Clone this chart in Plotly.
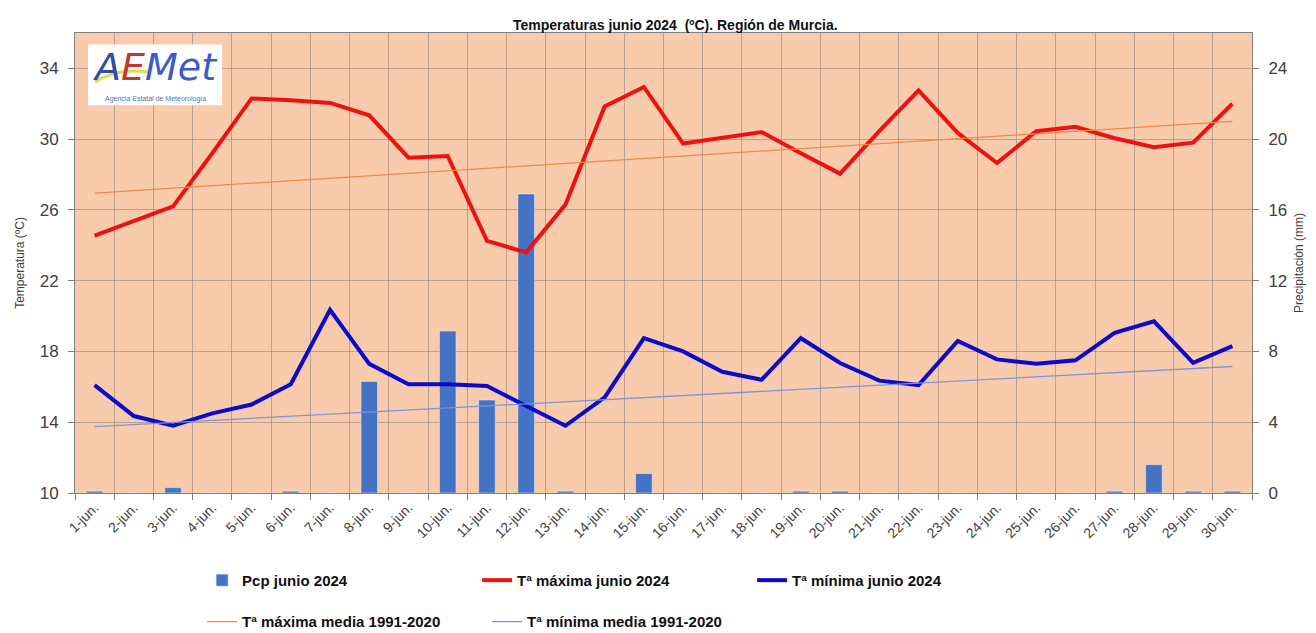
import plotly.graph_objects as go

days = [f"{d}-jun." for d in range(1, 31)]
pcp = [0.1, 0, 0.3, 0, 0, 0.1, 0, 6.3, 0, 9.15, 5.25, 16.9, 0.1, 0, 1.1,
       0, 0, 0, 0.1, 0.1, 0, 0, 0, 0, 0, 0, 0.1, 1.6, 0.1, 0.1]
tmax = [24.55, 25.4, 26.2, 29.2, 32.3, 32.2, 32.05, 31.35, 28.95, 29.05,
        24.25, 23.6, 26.3, 31.85, 32.95, 29.75, 30.1, 30.4, 29.2, 28.05,
        30.45, 32.75, 30.35, 28.65, 30.45, 30.7, 30.05, 29.55, 29.8, 32.0]
tmin = [16.1, 14.35, 13.8, 14.5, 15.0, 16.15, 20.35, 17.3, 16.15, 16.15,
        16.05, 14.95, 13.8, 15.4, 18.75, 18.0, 16.85, 16.4, 18.75, 17.35,
        16.35, 16.1, 18.6, 17.55, 17.3, 17.5, 19.05, 19.7, 17.35, 18.3]
# climatological trend lines (1991-2020), end points
clim_days = [days[0], days[-1]]
tmax_media = [26.95, 31.0]
tmin_media = [13.75, 17.15]

FONT = "Liberation Sans, Arial, sans-serif"
TXT = "#404040"
GRID = "rgba(130,120,115,0.5)"

fig = go.Figure()
fig.add_trace(go.Bar(x=days, y=pcp, name="<b>Pcp junio 2024</b>", marker_color="#4472C4",
                     width=0.42, yaxis="y", legend="legend"))
fig.add_trace(go.Scatter(x=days, y=tmax, name="<b>Tª máxima junio 2024</b>", mode="lines",
                         line=dict(color="#EE1111", width=4), yaxis="y2", legend="legend"))
fig.add_trace(go.Scatter(x=days, y=tmin, name="<b>Tª mínima junio 2024</b>", mode="lines",
                         line=dict(color="#0A0ACC", width=4), yaxis="y2", legend="legend"))
fig.add_trace(go.Scatter(x=clim_days, y=tmax_media, name="<b>Tª máxima media 1991-2020</b>", mode="lines",
                         line=dict(color="#F08A45", width=1.3), yaxis="y2", legend="legend2"))
fig.add_trace(go.Scatter(x=clim_days, y=tmin_media, name="<b>Tª mínima media 1991-2020</b>", mode="lines",
                         line=dict(color="#7F93D6", width=1.3), yaxis="y2", legend="legend2"))

# page body has an 8px default margin, so the figure is 8px smaller than the window
fig.update_layout(
    width=1308, height=625,
    margin=dict(l=67, r=64, t=25, b=140, autoexpand=False),
    paper_bgcolor="white", plot_bgcolor="#F8CBAD",
    font=dict(family=FONT, color=TXT),
    title=dict(text="<b>Temperaturas junio 2024  (ºC). Región de Murcia.</b>",
               font=dict(size=14, color="#111111", family=FONT),
               x=0.51, xref="paper", xanchor="center", y=0.972, yanchor="middle"),
    xaxis=dict(type="category", tickson="boundaries", ticks="outside", ticklen=6,
               tickcolor="#808080", showline=True, linecolor="#808080", mirror=True,
               showgrid=True, gridcolor=GRID, gridwidth=1, tickangle=-45,
               tickfont=dict(size=14, color=TXT), automargin=False),
    yaxis=dict(side="right", range=[0, 26], tickvals=[0, 4, 8, 12, 16, 20, 24],
               ticks="outside", ticklen=6, tickcolor="#808080", showline=True,
               linecolor="#808080", showgrid=True, gridcolor=GRID, zeroline=False,
               tickfont=dict(size=17, color=TXT), automargin=False, ticklabelstandoff=6,
               title=dict(text="Precipitación (mm)", font=dict(size=12, color=TXT), standoff=8)),
    yaxis2=dict(side="left", overlaying="y", range=[10, 36], tickvals=[10, 14, 18, 22, 26, 30, 34],
                ticks="outside", ticklen=6, tickcolor="#808080", showline=True,
                linecolor="#808080", showgrid=False, zeroline=False,
                tickfont=dict(size=17, color=TXT), automargin=False, ticklabelstandoff=6,
                title=dict(text="Temperatura (ºC)", font=dict(size=12, color=TXT), standoff=12)),
    legend=dict(orientation="h", x=0.108, xanchor="left", y=-0.19, yanchor="middle",
                entrywidth=230, entrywidthmode="pixels", bgcolor="rgba(0,0,0,0)",
                font=dict(size=15, color="#111111", family=FONT), traceorder="normal"),
    legend2=dict(orientation="h", x=0.108, xanchor="left", y=-0.28, yanchor="middle",
                 entrywidth=240, entrywidthmode="pixels", bgcolor="rgba(0,0,0,0)",
                 font=dict(size=15, color="#111111", family=FONT), traceorder="normal"),
)

# AEMET logo (decoration)
fig.add_shape(type="rect", xref="paper", yref="paper", x0=0.011, x1=0.125, y0=0.843, y1=0.975,
              fillcolor="white", line=dict(width=0), layer="above")
fig.add_shape(type="path", xref="paper", yref="paper",
              path="M 0.017 0.893 Q 0.035 0.925 0.062 0.915", line=dict(color="#E8D84A", width=3),
              layer="above")
fig.add_annotation(xref="paper", yref="paper", x=0.068, y=0.925, xanchor="center", yanchor="middle",
                   showarrow=False,
                   text="<i><span style='color:#2A4FA8'>A</span><span style='color:#C0392B'>E</span>"
                        "<span style='color:#3A5BC8'>Met</span></i>",
                   font=dict(size=38, family="DejaVu Sans, sans-serif"))
fig.add_annotation(xref="paper", yref="paper", x=0.068, y=0.857, xanchor="center", yanchor="middle",
                   showarrow=False, text="Agencia Estatal de Meteorología",
                   font=dict(size=7, color="#5A6FB8", family=FONT))

fig.write_html("out.html")
